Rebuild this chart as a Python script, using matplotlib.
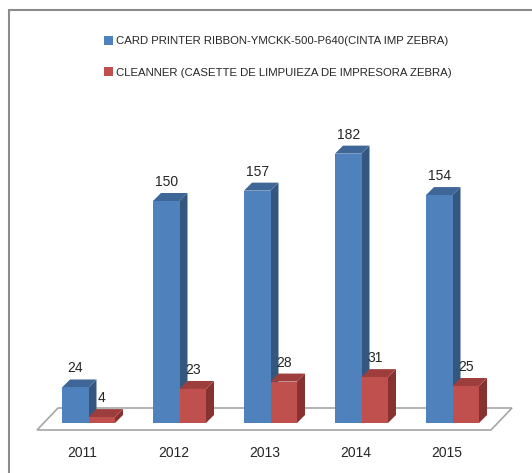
import matplotlib
matplotlib.use("Agg")
import matplotlib.pyplot as plt
import numpy as np
from matplotlib.patches import Polygon, Rectangle, Patch

years = ["2011", "2012", "2013", "2014", "2015"]
ribbon = [24, 150, 157, 182, 154]
cleaner = [4, 23, 28, 31, 25]
series_names = [
    "CARD PRINTER RIBBON-YMCKK-500-P640(CINTA IMP ZEBRA)",
    "CLEANNER (CASETTE DE LIMPUIEZA DE IMPRESORA ZEBRA)",
]

BLUE = ("#4F81BD", "#3E6797", "#345780")   # front, top, side
RED = ("#C0504D", "#9E3E3C", "#873230")
plt.rcParams["font.family"] = ["Liberation Sans", "DejaVu Sans"]

W, H = 532, 473
fig = plt.figure(figsize=(W / 100, H / 100), dpi=100)
ax = fig.add_axes([0, 0, 1, 1])
# one category = 91 px, one value unit = 1.48 px, base line at pixel y 423
PX_X, PX_Y = 91.0, 1.48
ax.set_xlim(-88.5 / PX_X, (W - 88.5) / PX_X)
ax.set_ylim((423 - H) / PX_Y, 423 / PX_Y)
ax.axis("off")

bw = 26.5 / PX_X
ddx, ddy = 8 / PX_X, 8 / PX_Y

# floor
floor = Polygon(
    [(-51.5 / PX_X, -7 / PX_Y), (402.5 / PX_X, -7 / PX_Y),
     (423.5 / PX_X, 15 / PX_Y), (-30.5 / PX_X, 15 / PX_Y)],
    closed=True, facecolor="white", edgecolor="#A6A6A6", lw=1.2, zorder=1)
ax.add_patch(floor)


def bar3d(x0, v, cols):
    front, top, side = cols
    ax.add_patch(Polygon([(x0 + bw, 0), (x0 + bw + ddx, ddy), (x0 + bw + ddx, v + ddy), (x0 + bw, v)],
                         facecolor=side, edgecolor="none", zorder=2))
    ax.add_patch(Polygon([(x0, v), (x0 + bw, v), (x0 + bw + ddx, v + ddy), (x0 + ddx, v + ddy)],
                         facecolor=top, edgecolor="none", zorder=2))
    ax.bar(x0, v, width=bw, align="edge", color=front, zorder=2)


x = np.arange(len(years))
for i in x:
    bar3d(i - bw, ribbon[i], BLUE)
    bar3d(i, cleaner[i], RED)
    ax.text(i - bw / 2, ribbon[i] + ddy + 11 / PX_Y, str(ribbon[i]), ha="center", va="center",
            fontsize=10, color="#262626")
    ax.text(i + bw / 2, cleaner[i] + ddy + 11 / PX_Y, str(cleaner[i]), ha="center", va="center",
            fontsize=10, color="#262626")
    ax.text(i - 6 / PX_X, -30 / PX_Y, years[i], ha="center", va="center", fontsize=10, color="#262626")

handles = [Patch(facecolor=BLUE[0]), Patch(facecolor=RED[0])]
ax.legend(handles, series_names, loc="upper left", bbox_to_anchor=(99 / W, 1 - 31 / H),
          frameon=False, fontsize=8.2, handlelength=0.85, handleheight=0.85, handletextpad=0.25,
          labelspacing=1.85, labelcolor="#262626", borderaxespad=0)

fig.patches.append(Rectangle((9 / W, -0.1), 1.2, 1 - 10 / H + 0.1, transform=fig.transFigure,
                             fill=False, edgecolor="#8C8C8C", lw=1.5, zorder=0))

fig.savefig("out.png", dpi=100)
